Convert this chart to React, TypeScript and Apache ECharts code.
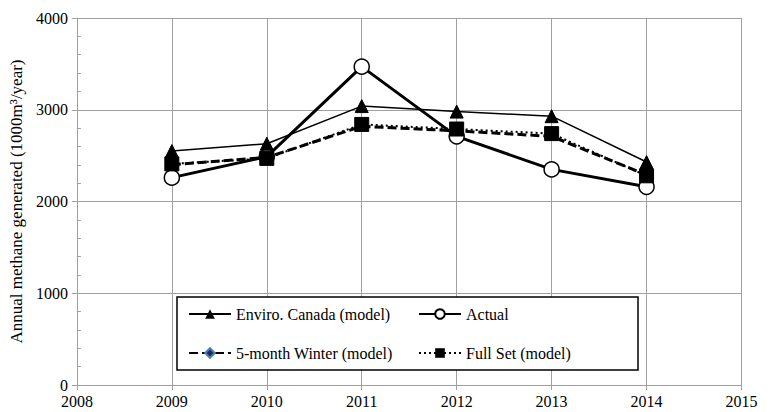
import React, { useEffect, useRef } from "react";
import * as echarts from "echarts";

const years = [2009, 2010, 2011, 2012, 2013, 2014];
const enviroCanada = [2550, 2630, 3040, 2980, 2930, 2430];
const actual = [2260, 2490, 3470, 2710, 2350, 2160];
const fiveMonthWinter = [2400, 2480, 2820, 2770, 2710, 2290];
const fullSet = [2410, 2470, 2840, 2790, 2740, 2280];
const seriesNames = [
  "Enviro. Canada (model)",
  "Actual",
  "5-month Winter (model)",
  "Full Set (model)",
];
const yAxisName = "Annual methane generated (1000m³/year)";

const FONT = "'Liberation Serif', 'Times New Roman', serif";
const GRID = "#a0a0a0";

const pairs = (vals: number[]) => years.map((y, i) => [y, vals[i]]);

export default function App() {
  const ref = useRef<HTMLDivElement>(null);
  useEffect(() => {
    document.body.style.margin = "0";
    if (!ref.current) return;
    const chart = echarts.init(ref.current, undefined, { renderer: "svg" });
    const legendBase = {
      itemWidth: 42,
      itemHeight: 12,
      itemGap: 0,
      padding: 0,
      selectedMode: false,
      textStyle: { fontFamily: FONT, fontSize: 16, color: "#000", lineHeight: 16 },
    };
    chart.setOption({
      animation: false,
      backgroundColor: "#fff",
      textStyle: { fontFamily: FONT },
      grid: { left: 76.5, right: 28.5, top: 18, bottom: 27, containLabel: false },
      xAxis: {
        type: "value",
        min: 2008,
        max: 2015,
        interval: 1,
        axisLine: { show: true, lineStyle: { color: GRID, width: 1 } },
        axisTick: { show: true, length: 5, lineStyle: { color: GRID } },
        axisLabel: {
          margin: 8,
          fontFamily: FONT,
          fontSize: 16,
          color: "#000",
          formatter: (v: number) => String(v),
        },
        splitLine: { show: true, lineStyle: { color: GRID, width: 1 } },
      },
      yAxis: [
        {
          type: "value",
          min: 0,
          max: 4000,
          interval: 1000,
          name: yAxisName,
          nameLocation: "middle",
          nameGap: 48,
          nameTextStyle: { fontFamily: FONT, fontSize: 17, color: "#000" },
          axisLine: { show: true, lineStyle: { color: GRID, width: 1 } },
          axisTick: { show: true, length: 5, lineStyle: { color: GRID } },
          axisLabel: {
            margin: 9,
            fontFamily: FONT,
            fontSize: 16,
            color: "#000",
            formatter: (v: number) => String(v),
          },
          splitLine: { show: true, lineStyle: { color: GRID, width: 1 } },
        },
        {
          type: "value",
          min: 0,
          max: 4000,
          interval: 200,
          position: "left",
          axisLine: { show: false },
          axisTick: { show: true, inside: true, length: 4, lineStyle: { color: GRID } },
          axisLabel: { show: false },
          splitLine: { show: false },
        },
      ],
      legend: [
        { ...legendBase, data: [seriesNames[0]], left: 188, top: 306 },
        { ...legendBase, data: [seriesNames[1]], left: 418, top: 306 },
        { ...legendBase, data: [seriesNames[2]], left: 188, top: 345 },
        { ...legendBase, data: [seriesNames[3]], left: 418, top: 345 },
      ],
      graphic: [
        {
          type: "rect",
          z: 3,
          shape: { x: 177, y: 297, width: 461, height: 73 },
          style: { fill: "#fff", stroke: "#000", lineWidth: 1.5 },
        },
      ],
      series: [
        {
          name: seriesNames[0],
          type: "line",
          data: pairs(enviroCanada),
          symbol: "triangle",
          symbolSize: [13, 13],
          itemStyle: { color: "#000", borderColor: "#000" },
          lineStyle: { color: "#000", width: 1.5 },
          z: 3,
        },
        {
          name: seriesNames[1],
          type: "line",
          data: pairs(actual),
          symbol: "circle",
          symbolSize: 15,
          itemStyle: { color: "#fff", borderColor: "#000", borderWidth: 1.5 },
          lineStyle: { color: "#000", width: 3 },
          z: 2,
        },
        {
          name: seriesNames[2],
          type: "line",
          data: pairs(fiveMonthWinter),
          symbol: "diamond",
          symbolSize: 7,
          itemStyle: { color: "#1f2d4a", borderColor: "#4a7ebb", borderWidth: 1 },
          lineStyle: { color: "#000", width: 3, type: [9, 4] },
          z: 4,
        },
        {
          name: seriesNames[3],
          type: "line",
          data: pairs(fullSet),
          symbol: "rect",
          symbolSize: 14,
          itemStyle: { color: "#000", borderColor: "#000" },
          lineStyle: { color: "#000", width: 2, type: [2, 3] },
          z: 5,
        },
      ],
    });
    return () => chart.dispose();
  }, []);
  return <div ref={ref} style={{ width: 770, height: 412 }} />;
}
